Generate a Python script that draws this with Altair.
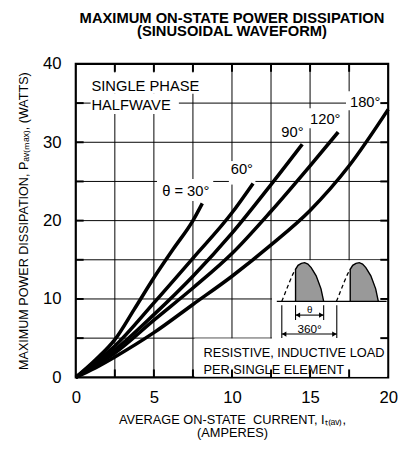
import altair as alt
import pandas as pd

FONT = "Liberation Sans"
W, H = 318, 319

# ---------------- axis grid / ticks ----------------
X_GRID = [0, 2.5, 5, 7.5, 10, 12.5, 15, 17.5, 20]
Y_GRID = [0, 5, 10, 15, 20, 25, 30, 35, 40]
X_LABELS = [0, 5, 10, 15, 20]
Y_LABELS = [0, 10, 20, 30, 40]

# ---------------- curves ----------------
cur_30 = [0, 1.25, 2.5, 3.75, 5, 6.25, 7.5, 8.1]
pwr_30 = [0, 2.2, 4.8, 8.7, 12.7, 16.4, 20.0, 22.2]
cur_60 = [0, 1.25, 2.5, 5, 7.5, 10, 11.35]
pwr_60 = [0, 1.9, 4.0, 9.5, 15.2, 21.0, 24.75]
cur_90 = [0, 1.25, 2.5, 5, 7.5, 10, 12.5, 14.5]
pwr_90 = [0, 1.7, 3.5, 8.0, 12.9, 18.4, 24.6, 29.75]
cur_120 = [0, 1.25, 2.5, 5, 7.5, 10, 12.5, 15, 16.8]
pwr_120 = [0, 1.5, 3.1, 7.3, 11.4, 15.8, 21.2, 27.0, 31.3]
cur_180 = [0, 1.25, 2.5, 5, 7.5, 10, 12.5, 15, 17.5, 20]
pwr_180 = [0, 1.2, 2.6, 5.7, 9.3, 12.9, 16.9, 21.3, 27.0, 34.2]

# ---------------- annotations ----------------
title_lines = ["MAXIMUM ON-STATE POWER DISSIPATION", "(SINUSOIDAL WAVEFORM)"]
x_title = ["AVERAGE ON-STATE\u00a0 CURRENT, I\u209c\u208d\u2090\u1d65\u208e,", "(AMPERES)"]
y_title = "MAXIMUM POWER DISSIPATION, P\u2090\u1d65\u208d\u2098\u2090\u2093\u208e, (WATTS)"

big_left_text = ["SINGLE PHASE", "HALFWAVE"]
big_left_x = [1.0, 1.0]
big_left_y = [36.6, 34.1]
angle_text = ["θ = 30°", "60°", "90°", "120°", "180°"]
angle_x = [7.04, 10.63, 13.87, 15.97, 18.53]
angle_y = [23.2, 25.9, 30.7, 32.35, 34.5]
load_text = ["RESISTIVE, INDUCTIVE LOAD", "PER SINGLE ELEMENT"]
load_x = [8.18, 8.18]
load_y = [2.63, 0.41]

# white panels behind labels and inset
panel_x1 = [0.95, 0.95, 5.2, 9.8, 14.9, 17.3, 12.56, 7.6]
panel_x2 = [8.1, 6.6, 8.8, 11.5, 17.1, 19.75, 19.93, 19.93]
panel_y1 = [36.2, 33.6, 22.5, 24.6, 31.8, 34.1, 0.07, 0.07]
panel_y2 = [38.9, 36.2, 25.3, 27.6, 34.35, 36.5, 14.94, 4.94]

# inset waveform (data units)
wave_base_y = 9.70
wave_base_x = [12.87, 19.9]
dash1_x = [13.19, 13.44, 13.69, 13.90, 14.07]
dash1_y = [9.70, 10.95, 12.20, 13.17, 13.79]
hump1_x = [14.07, 14.23, 14.44, 14.65, 14.86, 15.07, 15.39, 15.70, 15.87]
hump1_y = [13.79, 14.29, 14.55, 14.63, 14.46, 14.00, 12.96, 11.29, 9.70]
dash2_x = [16.69, 16.94, 17.19, 17.40, 17.57]
dash2_y = [9.70, 10.95, 12.20, 13.17, 13.79]
hump2_x = [17.57, 17.73, 17.94, 18.15, 18.36, 18.57, 18.89, 19.20, 19.37]
hump2_y = [13.79, 14.29, 14.55, 14.63, 14.46, 14.00, 12.96, 11.29, 9.70]

dim_x = [14.07, 15.87, 13.19, 16.71]
dim_y1 = [9.19, 9.19, 9.19, 9.19]
dim_y2 = [7.31, 7.31, 5.02, 5.02]
arrow_x1 = [14.07, 13.19]
arrow_x2 = [15.87, 16.71]
arrow_y = [7.94, 5.52]
head_left_x = [14.22, 13.34]
head_right_x = [15.72, 16.56]
head_y = [7.94, 5.52]
theta_x, theta_y = [14.97], [8.25]
deg_x, deg_y = [14.97], [5.68]

# ---------------- build tables ----------------
rows = []
for name, xs_, ys_ in [("30", cur_30, pwr_30), ("60", cur_60, pwr_60), ("90", cur_90, pwr_90),
                       ("120", cur_120, pwr_120), ("180", cur_180, pwr_180)]:
    for i, (a, b) in enumerate(zip(xs_, ys_)):
        rows.append({"series": name, "i": i, "I": a, "P": b})
curves = pd.DataFrame(rows)

xsc = alt.Scale(domain=[X_GRID[0], X_GRID[-1]], nice=False, zero=False)
ysc = alt.Scale(domain=[Y_GRID[0], Y_GRID[-1]], nice=False, zero=False)

x_axis = alt.Axis(values=X_LABELS, title=x_title, grid=False, domain=False, ticks=False,
                  labelFontSize=17, labelFont=FONT, labelColor="black", labelPadding=13,
                  labelFlush=False, format="d",
                  titleFont=FONT, titleFontSize=13, titleFontWeight="normal", titleColor="black",
                  titlePadding=8, titleLineHeight=13)
y_axis = alt.Axis(values=Y_LABELS, title=y_title, grid=False, domain=False, ticks=False,
                  labelFontSize=17, labelFont=FONT, labelColor="black", labelPadding=15,
                  labelFlush=False, format="d",
                  titleFont=FONT, titleFontSize=12.8, titleFontWeight="normal", titleColor="black",
                  titlePadding=12)


def X(f):
    return alt.X(f, type="quantitative", scale=xsc, axis=x_axis)


def Y(f):
    return alt.Y(f, type="quantitative", scale=ysc, axis=y_axis)


# grid lines: full-span rules
vgrid = pd.DataFrame({"gx": X_GRID[1:-1]})
hgrid = pd.DataFrame({"gy": Y_GRID[1:-1]})
vgrid_layer = alt.Chart(vgrid).mark_rule(color="black", strokeWidth=1).encode(x=X("gx"))
hgrid_layer = alt.Chart(hgrid).mark_rule(color="black", strokeWidth=1).encode(y=Y("gy"))

panels = pd.DataFrame({"px1": panel_x1, "px2": panel_x2, "py1": panel_y1, "py2": panel_y2})
panel_layer = alt.Chart(panels).mark_rect(color="white").encode(
    x=X("px1"), x2=alt.X2("px2"), y=Y("py1"), y2=alt.Y2("py2"))

curve_layer = alt.Chart(curves).mark_line(color="black", strokeWidth=3.6, interpolate="monotone").encode(
    x=X("I"), y=Y("P"), detail="series:N", order="i:Q")

# inset
base_df = pd.DataFrame({"bx1": [wave_base_x[0]], "bx2": [wave_base_x[1]], "by": [wave_base_y]})
base_layer = alt.Chart(base_df).mark_rule(color="black", strokeWidth=1.3).encode(
    x=X("bx1"), x2=alt.X2("bx2"), y=Y("by"))

shade_rows = []
for k, (hx, hy) in enumerate([(hump1_x, hump1_y), (hump2_x, hump2_y)]):
    for i, (a, b) in enumerate(zip(hx, hy)):
        shade_rows.append({"k": k, "i": i, "sx": a, "sy": b, "sb": wave_base_y})
shade = pd.DataFrame(shade_rows)
shade_layer = alt.Chart(shade).mark_area(color="#999999", interpolate="monotone").encode(
    x=X("sx"), y=Y("sy"), y2=alt.Y2("sb"), detail="k:N")

outline_rows = []
for k, (hx, hy) in enumerate([(hump1_x, hump1_y), (hump2_x, hump2_y)]):
    outline_rows.append({"k": k, "i": -1, "ox": hx[0], "oy": wave_base_y})
    for i, (a, b) in enumerate(zip(hx, hy)):
        outline_rows.append({"k": k, "i": i, "ox": a, "oy": b})
outline = pd.DataFrame(outline_rows)
outline_layer = alt.Chart(outline).mark_line(color="black", strokeWidth=1.4).encode(
    x=X("ox"), y=Y("oy"), detail="k:N", order="i:Q")

dash_rows = []
for k, (hx, hy) in enumerate([(dash1_x, dash1_y), (dash2_x, dash2_y)]):
    for i, (a, b) in enumerate(zip(hx, hy)):
        dash_rows.append({"k": k, "i": i, "dx": a, "dy": b})
dash = pd.DataFrame(dash_rows)
dash_layer = alt.Chart(dash).mark_line(color="black", strokeWidth=1.3, strokeDash=[4, 3]).encode(
    x=X("dx"), y=Y("dy"), detail="k:N", order="i:Q")

dims = pd.DataFrame({"mx": dim_x, "my1": dim_y1, "my2": dim_y2})
dim_layer = alt.Chart(dims).mark_rule(color="black", strokeWidth=1.1).encode(
    x=X("mx"), y=Y("my1"), y2=alt.Y2("my2"))

arrows = pd.DataFrame({"ax1": arrow_x1, "ax2": arrow_x2, "ay": arrow_y})
arrow_layer = alt.Chart(arrows).mark_rule(color="black", strokeWidth=1.1).encode(
    x=X("ax1"), x2=alt.X2("ax2"), y=Y("ay"))

hl = pd.DataFrame({"hx": head_left_x, "hy": head_y})
hr = pd.DataFrame({"hx": head_right_x, "hy": head_y})
head_l = alt.Chart(hl).mark_point(filled=True, color="black", size=28, opacity=1, shape="triangle-left").encode(
    x=X("hx"), y=Y("hy"))
head_r = alt.Chart(hr).mark_point(filled=True, color="black", size=28, opacity=1, shape="triangle-right").encode(
    x=X("hx"), y=Y("hy"))


def text_layer(texts, xs_, ys_, size, align):
    df = pd.DataFrame({"t": texts, "tx": xs_, "ty": ys_})
    return alt.Chart(df).mark_text(font=FONT, fontSize=size, color="black", align=align,
                                   baseline="alphabetic").encode(x=X("tx"), y=Y("ty"), text="t:N")


theta_layer = text_layer(["θ"], theta_x, theta_y, 10, "center")
deg_layer = text_layer(["360°"], deg_x, deg_y, 12, "center")
big_layer = text_layer(big_left_text, big_left_x, big_left_y, 15, "left")
ang_layer = text_layer(angle_text, angle_x, angle_y, 15, "center")
load_layer = text_layer(load_text, load_x, load_y, 13, "left")

# inward ticks on the frame (tick length in pixels)
tick_bottom = alt.Chart(vgrid).mark_rule(color="black", strokeWidth=2).encode(
    x=X("gx"), y=alt.value(H - 8), y2=alt.value(H))
tick_top = alt.Chart(vgrid).mark_rule(color="black", strokeWidth=2).encode(
    x=X("gx"), y=alt.value(0), y2=alt.value(8))
tick_left = alt.Chart(hgrid).mark_rule(color="black", strokeWidth=2).encode(
    y=Y("gy"), x=alt.value(0), x2=alt.value(8))
tick_right = alt.Chart(hgrid).mark_rule(color="black", strokeWidth=2).encode(
    y=Y("gy"), x=alt.value(W - 8), x2=alt.value(W))

chart = alt.layer(
    vgrid_layer, hgrid_layer, panel_layer, curve_layer, shade_layer, outline_layer, dash_layer, base_layer,
    dim_layer, arrow_layer, head_l, head_r, theta_layer, deg_layer, big_layer, ang_layer, load_layer,
    tick_bottom, tick_top, tick_left, tick_right,
).properties(
    width=W, height=H,
    title=alt.TitleParams(text=title_lines, font=FONT, fontSize=15, fontWeight="bold", color="black",
                          anchor="middle", lineHeight=13.5, offset=1, baseline="bottom"),
    padding={"left": 69, "top": 53, "right": 10, "bottom": 66},
    autosize=alt.AutoSizeParams(type="none"),
    background="white",
).configure_view(stroke="black", strokeWidth=2.2)

chart.save("out.html", embed_options={"renderer": "svg", "actions": False})
